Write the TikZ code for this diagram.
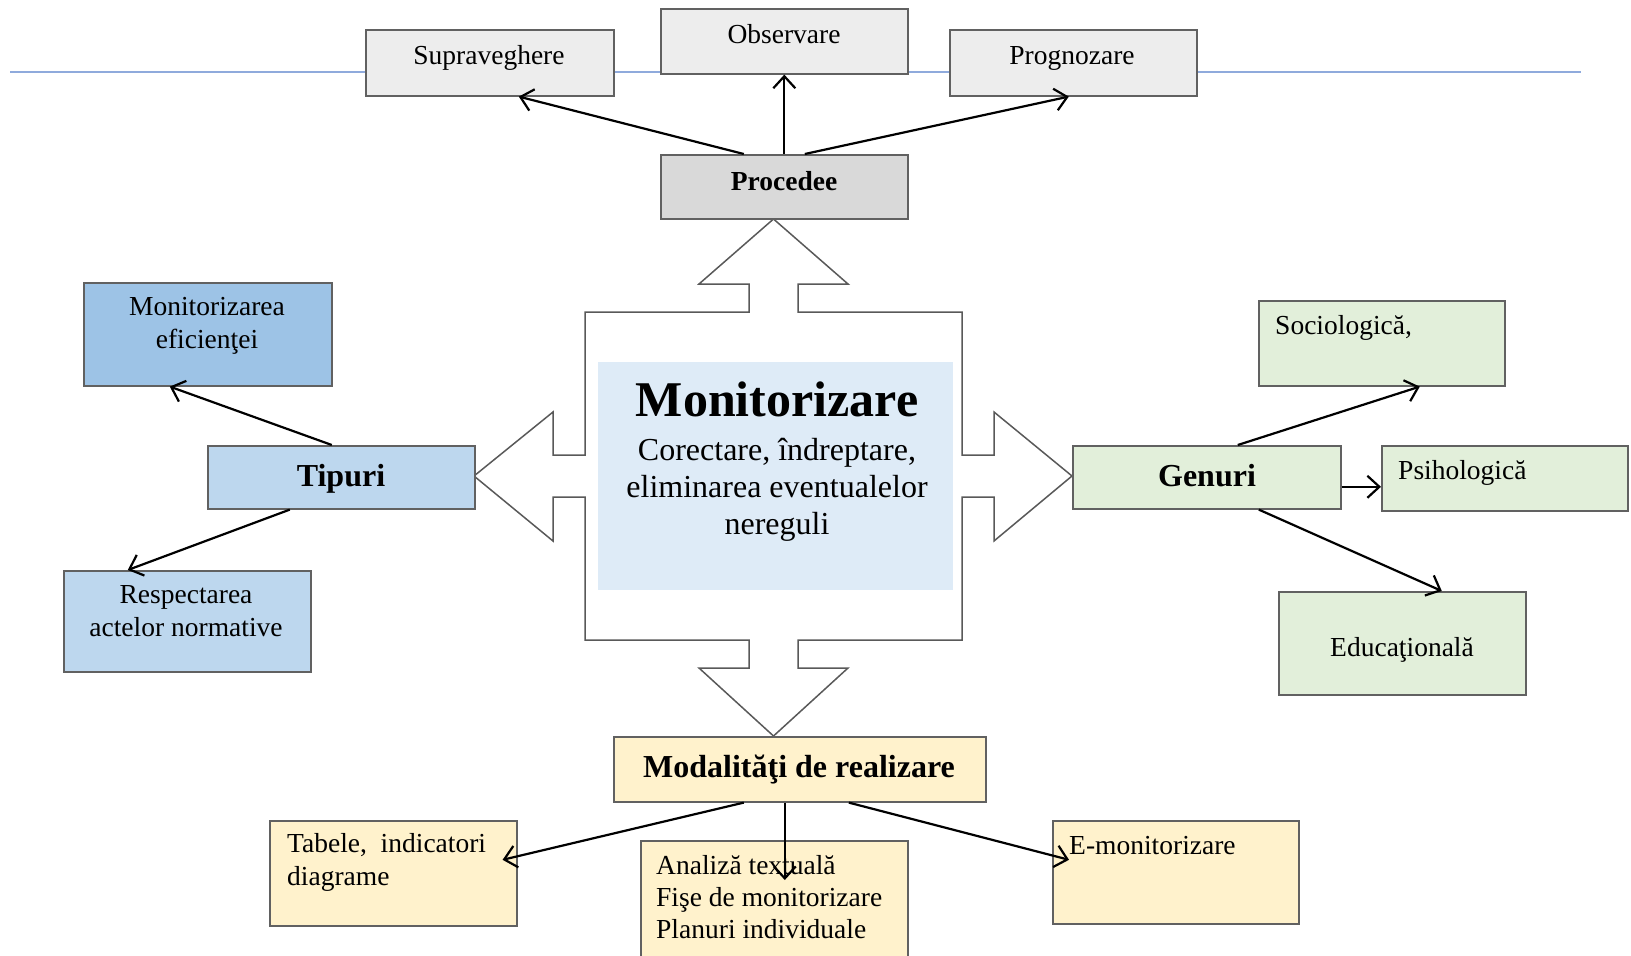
\documentclass[tikz,border=0pt]{standalone}
\usepackage{fontspec}
\setmainfont{Liberation Serif}
\usetikzlibrary{arrows.meta,calc}
\definecolor{greyA}{HTML}{EDEDED}
\definecolor{greyB}{HTML}{D9D9D9}
\definecolor{blueA}{HTML}{9DC3E6}
\definecolor{blueB}{HTML}{BDD7EE}
\definecolor{blueC}{HTML}{DEEBF7}
\definecolor{greenA}{HTML}{E2EFDA}
\definecolor{yellowA}{HTML}{FFF2CC}
\definecolor{rule}{HTML}{8FAADC}
\newcommand{\mylines}[2][c]{\begin{tabular}[t]{@{}#1@{}}#2\end{tabular}}
\begin{document}
\begin{tikzpicture}[x=1pt,y=-1pt,
  box/.style={draw=black!62, line width=1.6pt, inner sep=0pt, anchor=north west},
  txt/.style={inner sep=0pt, anchor=base, font=\fontsize{27.5}{32}\selectfont},
  txtw/.style={inner sep=0pt, anchor=base, font=\fontsize{27.5}{33.5}\selectfont},
  txtl/.style={inner sep=0pt, anchor=base west, font=\fontsize{27.5}{32}\selectfont},
  bold/.style={inner sep=0pt, anchor=base, font=\fontsize{32}{37}\selectfont\bfseries},
  conn/.style={line width=2.2pt, -{Straight Barb[length=12pt,width=22pt]}},
  cross/.style={draw=black!65, line width=1.5pt, fill=white, line join=miter}]
\useasboundingbox (0,0) rectangle (1631,956);
\clip (0,0) rectangle (1631,956);

% horizontal rule behind top boxes
\draw[rule, line width=1.5pt] (10,72) -- (1581,72);

% central cross arrow shape
\draw[cross] (585,312) -- (749,312) -- (749,284) -- (699,284) -- (773.5,219) -- (848,284) -- (798,284) -- (798,312)
  -- (962,312) -- (962,455) -- (994,455) -- (994,412) -- (1072,476) -- (994,541) -- (994,497) -- (962,497)
  -- (962,640) -- (798,640) -- (798,668) -- (848,668) -- (773.5,736) -- (699,668) -- (749,668) -- (749,640)
  -- (585,640) -- (585,497) -- (553,497) -- (553,541) -- (474,476) -- (553,412) -- (553,455) -- (585,455) -- cycle;
\fill[blueC] (598,362) rectangle (953,590);
\node[inner sep=0pt, anchor=base, font=\fontsize{50}{56}\selectfont\bfseries] (mon) at (777,416) {Monitorizare};
\node[inner sep=0pt, anchor=base, font=\fontsize{32}{37}\selectfont] (mondesc) at (777,460)
  {\mylines{Corectare, îndreptare,\\eliminarea eventualelor\\nereguli}};

% boxes
\node[box, fill=greyA, minimum width=248pt, minimum height=66pt] (sup) at (365,29) {};
\node[box, fill=greyA, minimum width=247pt, minimum height=65pt] (obs) at (660,8) {};
\node[box, fill=greyA, minimum width=247pt, minimum height=66pt] (prog) at (949,29) {};
\node[box, fill=greyB, minimum width=247pt, minimum height=64pt] (proc) at (660,154) {};
\node[box, fill=blueA, minimum width=248pt, minimum height=103pt] (meff) at (83,282) {};
\node[box, fill=blueB, minimum width=267pt, minimum height=63pt] (tip) at (207,445) {};
\node[box, fill=blueB, minimum width=247pt, minimum height=101pt] (resp) at (63,570) {};
\node[box, fill=greenA, minimum width=246pt, minimum height=85pt] (soc) at (1258,300) {};
\node[box, fill=greenA, minimum width=268pt, minimum height=63pt] (gen) at (1072,445) {};
\node[box, fill=greenA, minimum width=246pt, minimum height=65pt] (psi) at (1381,445) {};
\node[box, fill=greenA, minimum width=247pt, minimum height=103pt] (edu) at (1278,591) {};
\node[box, fill=yellowA, minimum width=372pt, minimum height=65pt] (mod) at (613,736) {};
\node[box, fill=yellowA, minimum width=247pt, minimum height=105pt] (tab) at (269,820) {};
\node[box, fill=yellowA, minimum width=267pt, minimum height=140pt] (ana) at (640,840) {};
\node[box, fill=yellowA, minimum width=246pt, minimum height=103pt] (emon) at (1052,820) {};

% texts
\node[txt] (tsup) at (489,64) {Supraveghere};
\node[txt] (tobs) at (784,43) {Observare};
\node[txt] (tprog) at (1072,64) {Prognozare};
\node[txt, font=\fontsize{27.5}{32}\selectfont\bfseries] (tproc) at (784,190) {Procedee};
\node[txtw] (tmeff) at (207,315) {\mylines{Monitorizarea\\eficienţei}};
\node[bold] (ttip) at (341,486) {Tipuri};
\node[txtw] (tresp) at (186,603) {\mylines{Respectarea\\actelor normative}};
\node[txtl] (tsoc) at (1275,334) {Sociologică,};
\node[bold] (tgen) at (1207,486) {Genuri};
\node[txtl] (tpsi) at (1398,479) {Psihologică};
\node[txt] (tedu) at (1402,656) {Educaţională};
\node[bold] (tmod) at (799,777) {Modalităţi de realizare};
\node[txtl, font=\fontsize{27.5}{33.5}\selectfont] (ttab) at (287,852) {\mylines[l]{Tabele,\ \ indicatori\\diagrame}};
\node[txtl] (tana) at (656,874.5) {\mylines[l]{Analiză textuală\\Fişe de monitorizare\\Planuri individuale}};
\node[txtl] (temon) at (1069,854) {E-monitorizare};

% connectors
\draw[conn] ([xshift=-40.5pt]proc.north) -- ([xshift=29pt]sup.south);
\draw[conn] (proc.north) -- (obs.south);
\draw[conn] ([xshift=20.5pt]proc.north) -- ([xshift=-4.5pt]prog.south);
\draw[conn] ([xshift=-9.5pt]tip.north) -- ([xshift=-38pt]meff.south);
\draw[conn] ([xshift=-51.5pt]tip.south) -- ([xshift=-59.5pt]resp.north);
\draw[conn] ([xshift=31pt]gen.north) -- ([xshift=38pt]soc.south);
\draw[conn] ([yshift=-9.5pt]gen.east) -- ([yshift=-9.5pt]gen.east -| psi.west);
\draw[conn] ([xshift=52pt]gen.south) -- ([xshift=39.5pt]edu.north);
\draw[conn] ([xshift=-56pt]mod.south) -- ([xshift=-15pt,yshift=13.5pt]tab.east);
\draw[conn] ([xshift=-15pt]mod.south) -- ([xshift=10.5pt,yshift=-40pt]ana.north);
\draw[conn] ([xshift=49pt]mod.south) -- ([xshift=17pt,yshift=12.5pt]emon.west);
\end{tikzpicture}
\end{document}
